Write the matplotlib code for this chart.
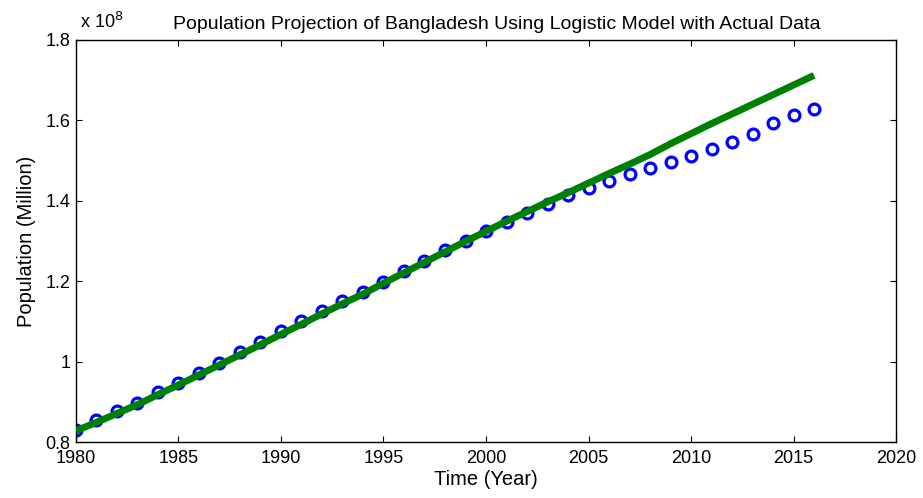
import matplotlib
matplotlib.use("Agg")
import matplotlib.pyplot as plt
from matplotlib.ticker import FuncFormatter

# actual population (million)
years = list(range(1980, 2017))
actual = [83.0, 85.5, 87.7, 89.7, 92.4, 94.7, 97.2, 99.7, 102.4, 104.9,
          107.6, 110.1, 112.6, 115.1, 117.3, 119.8, 122.6, 125.0, 127.8, 130.0,
          132.5, 134.7, 137.0, 139.2, 141.4, 143.2, 144.9, 146.7, 148.2, 149.7,
          151.2, 152.9, 154.7, 156.6, 159.4, 161.3, 162.8]
# logistic model (million)
model = [82.8, 84.9, 87.1, 89.3, 91.8, 94.2, 96.7, 99.2, 101.7, 104.2,
         106.8, 109.3, 111.9, 114.4, 116.8, 119.5, 122.1, 124.7, 127.3, 129.9,
         132.4, 134.9, 137.3, 139.7, 142.0, 144.4, 146.8, 149.1, 151.5, 154.2,
         156.7, 159.2, 161.6, 164.0, 166.4, 168.8, 171.2]

xticks = [1980, 1985, 1990, 1995, 2000, 2005, 2010, 2015, 2020]
yticks = [0.8e8, 1.0e8, 1.2e8, 1.4e8, 1.6e8, 1.8e8]

plt.rcParams['font.family'] = ['Liberation Sans', 'DejaVu Sans']

fig = plt.figure(figsize=(9.23, 4.98), dpi=100)
ax = fig.add_axes([0.0823, 0.1124, 0.8885, 0.8073])

ax.plot(years, [v * 1e6 for v in actual], 'o', mfc='none', mec='#0000ff',
        ms=7.8, mew=2.3, zorder=2)
ax.plot(years, [v * 1e6 for v in model], '-', color='#008000', lw=5,
        solid_capstyle='butt', zorder=3)

ax.set_xlim(1980, 2020)
ax.set_ylim(0.8e8, 1.8e8)
ax.set_xticks(xticks)
ax.set_yticks(yticks)
ax.yaxis.set_major_formatter(FuncFormatter(lambda v, p: f"{v / 1e8:g}"))
ax.tick_params(direction='in', length=4, width=0.8, top=True, right=True,
               labelsize=13)
ax.tick_params(axis='x', pad=6)
ax.tick_params(axis='y', pad=4)
for s in ax.spines.values():
    s.set_linewidth(1.0)
    s.set_color('black')

ax.set_xlabel('Time (Year)', fontsize=14.5, labelpad=2)
ax.set_ylabel('Population (Million)', fontsize=14.5, labelpad=7)
ax.set_title('Population Projection of Bangladesh Using Logistic Model with Actual Data',
             fontsize=14, pad=8, x=0.513)
fig.text(0.087, 0.935, r'x 10$^{8}$', fontsize=13, ha='left', va='bottom')

fig.savefig('out.png', dpi=100)
